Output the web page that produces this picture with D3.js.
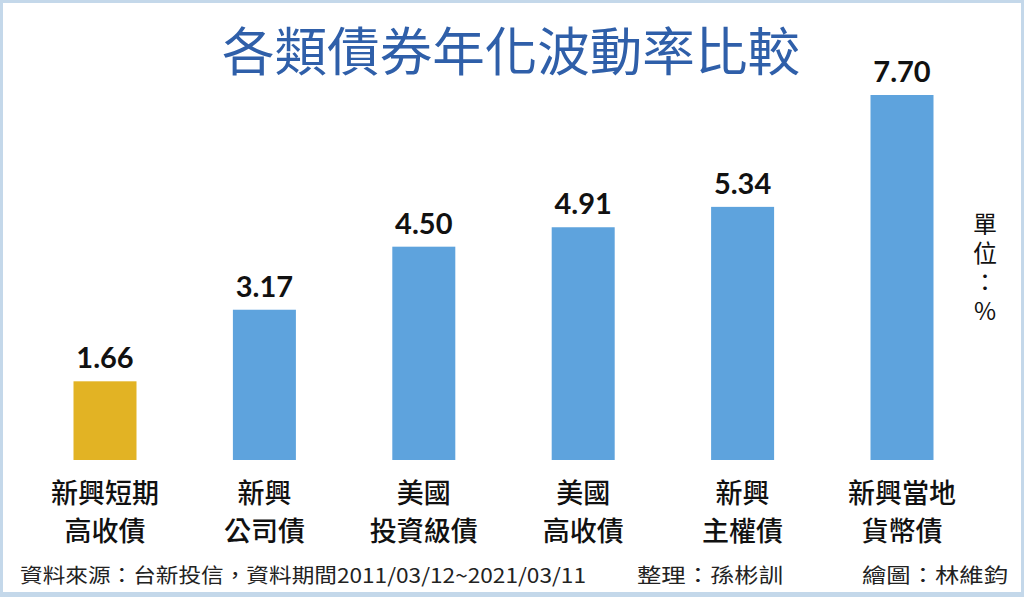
<!DOCTYPE html>
<html>
<head>
<meta charset="utf-8">
<script src="https://cdn.jsdelivr.net/npm/d3@7"></script>
<style>
  html, body { margin: 0; padding: 0; background: #ffffff; }
  svg { display: block; }
</style>
</head>
<body>
<svg id="svg"></svg>
<script>
////////////////////////////////////////////////////////////////////////
// Data

let categories = ["新興短期高收債", "新興公司債", "美國投資級債", "美國高收債", "新興主權債", "新興當地貨幣債"];
let labelLine1 = ["新興短期", "新興", "美國", "美國", "新興", "新興當地"];
let labelLine2 = ["高收債", "公司債", "投資級債", "高收債", "主權債", "貨幣債"];
let volatility = [1.66, 3.17, 4.50, 4.91, 5.34, 7.70];
let unitText = "單位：%";

let title = "各類債券年化波動率比較";
let footSource = "資料來源：台新投信，資料期間2011/03/12~2021/03/11";
let footEditor = "整理：孫彬訓";
let footArtist = "繪圖：林維鈞";


////////////////////////////////////////////////////////////////////////
// Setup

let winWidth = 1024;
let winHeight = 597;
let cjk = "'Noto Sans CJK TC', 'Noto Sans CJK SC', sans-serif";

let svg = d3.select("#svg")
            .attr("width", winWidth)
            .attr("height", winHeight);

// light blue frame
svg.append("rect")
   .attr("x", 0).attr("y", 0)
   .attr("width", winWidth).attr("height", winHeight)
   .attr("fill", "#c4d8ea");
svg.append("rect")
   .attr("x", 3).attr("y", 3)
   .attr("width", winWidth - 6).attr("height", winHeight - 8)
   .attr("fill", "#ffffff");

let xScale = d3.scalePoint()
               .domain(categories)
               .range([105, 902]);

let yScale = d3.scaleLinear()
               .domain([0, 7.7])
               .range([460, 95]);

let barWidth = 63;


////////////////////////////////////////////////////////////////////////
// Bars and labels

let gs = svg.selectAll("g.bar")
            .data(categories)
            .enter()
            .append("g")
            .attr("class", "bar");

gs.append("rect")
  .attr("x", d => xScale(d) - barWidth / 2)
  .attr("y", (d, i) => yScale(volatility[i]))
  .attr("width", barWidth)
  .attr("height", (d, i) => yScale(0) - yScale(volatility[i]))
  .attr("fill", (d, i) => i === 0 ? "#e2b324" : "#5ea3dd");

gs.append("text")
  .attr("x", d => xScale(d))
  .attr("y", (d, i) => yScale(volatility[i]) - 13)
  .attr("text-anchor", "middle")
  .attr("font-family", "Lato, 'DejaVu Sans', sans-serif")
  .attr("font-weight", 700)
  .attr("font-size", 29)
  .attr("fill", "#111111")
  .text((d, i) => d3.format(".2f")(volatility[i]));

gs.append("text")
  .attr("x", d => xScale(d))
  .attr("y", 503)
  .attr("text-anchor", "middle")
  .attr("font-family", cjk)
  .attr("font-weight", 500)
  .attr("font-size", 27)
  .attr("fill", "#111111")
  .text((d, i) => labelLine1[i]);

gs.append("text")
  .attr("x", d => xScale(d))
  .attr("y", 541)
  .attr("text-anchor", "middle")
  .attr("font-family", cjk)
  .attr("font-weight", 500)
  .attr("font-size", 27)
  .attr("fill", "#111111")
  .text((d, i) => labelLine2[i]);


////////////////////////////////////////////////////////////////////////
// Title, unit, footer

svg.append("text")
   .attr("x", 511)
   .attr("y", 71)
   .attr("text-anchor", "middle")
   .attr("font-family", cjk)
   .attr("font-weight", 400)
   .attr("font-size", 52)
   .attr("fill", "#2f5fa9")
   .attr("textLength", 578)
   .attr("lengthAdjust", "spacingAndGlyphs")
   .text(title);

// vertical unit label
svg.append("text")
   .attr("x", 985)
   .attr("y", 212)
   .style("writing-mode", "vertical-rl")
   .style("text-orientation", "upright")
   .style("letter-spacing", "5px")
   .attr("font-family", cjk)
   .attr("font-size", 24)
   .attr("fill", "#111111")
   .text(unitText);

let foot = [
  {text: footSource, x: 20, w: 566},
  {text: footEditor, x: 637, w: 146},
  {text: footArtist, x: 862, w: 146}
];

svg.selectAll("text.foot")
   .data(foot)
   .enter()
   .append("text")
   .attr("class", "foot")
   .attr("x", d => d.x)
   .attr("y", 583)
   .attr("font-family", cjk)
   .attr("font-size", 20)
   .attr("fill", "#222222")
   .attr("textLength", d => d.w)
   .attr("lengthAdjust", "spacingAndGlyphs")
   .text(d => d.text);
</script>
</body>
</html>
